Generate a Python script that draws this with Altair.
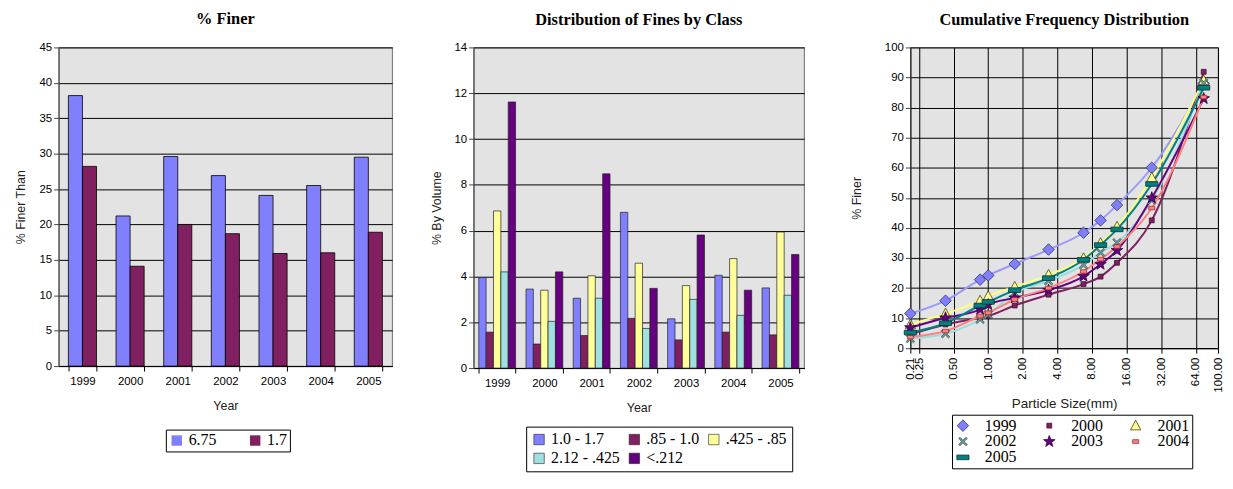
import altair as alt
import pandas as pd

# ---------------- data ----------------
years = ["1999", "2000", "2001", "2002", "2003", "2004", "2005"]

# % Finer chart
finer_sizes = ["6.75", "1.7"]
finer_675 = [38.2, 21.2, 29.6, 26.9, 24.1, 25.5, 29.5]
finer_17 = [28.2, 14.1, 20.0, 18.7, 15.9, 16.0, 18.9]

# Distribution of fines by class
classes = ["1.0 - 1.7", ".85 - 1.0", ".425 - .85", "2.12 - .425", "<.212"]
cls_10_17 = [3.95, 3.45, 3.05, 6.8, 2.15, 4.05, 3.5]
cls_085_10 = [1.57, 1.05, 1.42, 2.17, 1.23, 1.57, 1.45]
cls_0425_085 = [6.86, 3.4, 4.03, 4.58, 3.6, 4.78, 5.94]
cls_212_0425 = [4.2, 2.04, 3.05, 1.73, 3.0, 2.3, 3.18]
cls_lt_212 = [11.62, 4.2, 8.48, 3.48, 5.81, 3.4, 4.96]

# Cumulative frequency distribution
sieve_mm = [0.21, 0.425, 0.85, 1.0, 1.7, 3.35, 6.75, 9.5, 13.2, 26.5, 75]
cum_1999 = [11.5, 15.8, 22.8, 24.2, 28.0, 32.8, 38.4, 42.5, 47.6, 60.0, 88.0]
cum_2000 = [4.6, 7.9, 10.1, 10.7, 14.2, 17.8, 21.3, 23.8, 28.4, 42.5, 91.9]
cum_2001 = [7.9, 11.5, 15.8, 17.3, 20.4, 24.4, 29.9, 34.9, 40.4, 56.7, 89.0]
cum_2002 = [3.2, 4.8, 9.6, 11.2, 18.4, 22.4, 27.7, 31.8, 35.1, 49.2, 88.2]
cum_2003 = [6.8, 10.1, 12.9, 14.5, 16.7, 19.3, 23.9, 27.9, 32.5, 50.0, 83.0]
cum_2004 = [3.7, 5.7, 10.7, 11.8, 16.2, 20.0, 25.5, 29.6, 33.8, 46.6, 83.5]
cum_2005 = [5.2, 8.3, 14.2, 15.4, 19.3, 23.3, 29.4, 34.3, 39.5, 54.6, 86.6]
size_ticks = [0.21, 0.25, 0.5, 1, 2, 4, 8, 16, 32, 64, 100]

# ---------------- tables ----------------
df1 = pd.DataFrame(
    [{"Year": y, "Size": s, "Value": v}
     for s, vals in zip(finer_sizes, [finer_675, finer_17])
     for y, v in zip(years, vals)]
)
df2 = pd.DataFrame(
    [{"Year": y, "Class": c, "Value": v}
     for c, vals in zip(classes, [cls_10_17, cls_085_10, cls_0425_085, cls_212_0425, cls_lt_212])
     for y, v in zip(years, vals)]
)
cum_all = [cum_1999, cum_2000, cum_2001, cum_2002, cum_2003, cum_2004, cum_2005]
df3 = pd.DataFrame(
    [{"Series": y, "Size": s, "Finer": v}
     for y, vals in zip(years, cum_all)
     for s, v in zip(sieve_mm, vals)]
)

SANS = "Liberation Sans"
SERIF = "Liberation Serif"
LEG_FS = 16

def title(txt, off):
    return alt.Title(txt, font=SERIF, fontSize=16.5, fontWeight="bold",
                     anchor="middle", offset=off, color="black")

def legend(x, y, cols=None, sw=0.6, colpad=14, pad=4):
    kw = dict(orient="none", legendX=x, legendY=y, direction="horizontal",
              title=None, fillColor="white", strokeColor="black", padding=pad,
              labelFont=SERIF, labelFontSize=LEG_FS, labelColor="black",
              symbolType="square", symbolSize=110, symbolStrokeColor="#222",
              symbolStrokeWidth=sw, columnPadding=colpad, rowPadding=3, labelOffset=4)
    if cols:
        kw["columns"] = cols
    return alt.Legend(**kw)

def y_axis(vals, ttl, tpad):
    return alt.Axis(values=vals, title=ttl, grid=True, gridColor="black",
                    labelFont=SANS, labelFontSize=11.5, titleFont=SANS, titleFontSize=12.5,
                    titleFontWeight="normal", titlePadding=tpad, labelColor="black",
                    titleColor="#222", domainColor="#444", tickColor="#444")

bar_x_axis = alt.Axis(labelAngle=0, tickBand="extent", title="Year", labelFont=SANS,
                      labelFontSize=11.5, titleFont=SANS, titleFontSize=12.5,
                      titleFontWeight="normal", titlePadding=12, labelPadding=5,
                      domainColor="black", tickColor="black", labelColor="black",
                      titleColor="#222")

# ---------------- chart 1 ----------------
c1 = alt.Chart(df1, title=title("% Finer", 14)).mark_bar(
    stroke="black", strokeWidth=0.8
).encode(
    x=alt.X("Year:N", sort=years, scale=alt.Scale(paddingInner=0.41, paddingOuter=0.205),
            axis=bar_x_axis),
    xOffset=alt.XOffset("Size:N", sort=finer_sizes, scale=alt.Scale(paddingInner=0, paddingOuter=0)),
    y=alt.Y("Value:Q", scale=alt.Scale(domain=[0, 45], nice=False),
            axis=y_axis(list(range(0, 50, 5)), "% Finer Than", 12)),
    color=alt.Color("Size:N", sort=finer_sizes,
                    scale=alt.Scale(domain=finer_sizes, range=["#8080FF", "#802060"]),
                    legend=legend(108, 385, sw=0, colpad=31, pad=3)),
).properties(width=336, height=321)

# ---------------- chart 2 ----------------
c2 = alt.Chart(df2, title=title("Distribution of Fines by Class", 13)).mark_bar(
    stroke="#222", strokeWidth=0.7
).encode(
    x=alt.X("Year:N", sort=years, scale=alt.Scale(paddingInner=0.22, paddingOuter=0.11),
            axis=bar_x_axis),
    xOffset=alt.XOffset("Class:N", sort=classes, scale=alt.Scale(paddingInner=0, paddingOuter=0)),
    y=alt.Y("Value:Q", scale=alt.Scale(domain=[0, 14], nice=False),
            axis=y_axis(list(range(0, 15, 2)), "% By Volume", 11)),
    color=alt.Color("Class:N", sort=classes,
                    scale=alt.Scale(domain=classes,
                                    range=["#8080FF", "#802060", "#FFFF99", "#A0E0E0", "#660080"]),
                    legend=legend(53, 382, cols=3, colpad=6, pad=5)),
).properties(width=333, height=323)

# ---------------- chart 3 ----------------
line_colors = ["#9999FF", "#802060", "#FFFF80", "#99DDDD", "#660080", "#FF8080", "#008080"]
fill_colors = ["#8080FF", "#802060", "#FFFF99", "#6E9A9A", "#660080", "#FF8080", "#008080"]
stroke_colors = ["#333366", "#401030", "#444400", "#3C5A5A", "#30003C", "#A03030", "#103030"]
shapes = [
    "M0,-0.95L0.95,0L0,0.95L-0.95,0Z",
    "M-0.4,-0.4H0.4V0.4H-0.4Z",
    "M0,-0.9L0.85,0.7H-0.85Z",
    "M-0.7,-0.5L-0.5,-0.7L0,-0.2L0.5,-0.7L0.7,-0.5L0.2,0L0.7,0.5L0.5,0.7L0,0.2L-0.5,0.7L-0.7,0.5L-0.2,0Z",
    "M0,-1L0.24,-0.32L0.95,-0.31L0.38,0.12L0.59,0.81L0,0.4L-0.59,0.81L-0.38,0.12L-0.95,-0.31L-0.24,-0.32Z",
    "M-0.5,-0.3H0.5V0.3H-0.5Z",
    "M-1,-0.38H1V0.38H-1Z",
]

x3 = alt.X("Size:Q", scale=alt.Scale(type="log", domain=[0.21, 100], nice=False),
           axis=alt.Axis(values=size_ticks, format=".2f", labelAngle=270, labelOverlap=False,
                         labelFlush=False, grid=True, gridColor="black",
                         title="Particle Size(mm)", labelFont=SANS, labelFontSize=11.5,
                         titleFont=SANS, titleFontSize=13.5, titleFontWeight="normal",
                         titlePadding=5, labelColor="black", titleColor="#222",
                         domainColor="black", tickColor="black", labelPadding=4))
y3 = alt.Y("Finer:Q", scale=alt.Scale(domain=[0, 100], nice=False),
           axis=y_axis(list(range(0, 110, 10)), "% Finer", 21))

base3 = alt.Chart(df3)
lines3 = base3.mark_line(interpolate="monotone", strokeWidth=2).encode(
    x=x3, y=y3,
    color=alt.Color("Series:N", sort=years,
                    scale=alt.Scale(domain=years, range=line_colors), legend=None),
    detail="Series:N",
)
# this legend is resolved at the top level: position relative to the first panel's plot
leg3 = alt.Legend(orient="none", legendX=900, legendY=370, direction="horizontal", columns=3,
                  title=None, fillColor="white", strokeColor="black", padding=3,
                  labelFont=SERIF, labelFontSize=LEG_FS, labelColor="black",
                  symbolSize=150, symbolStrokeWidth=0.8, columnPadding=25, rowPadding=0,
                  labelOffset=14)
pts3 = base3.mark_point(filled=True, size=150, opacity=1, strokeWidth=0.8).encode(
    x=x3, y=y3,
    fill=alt.Fill("Series:N", sort=years,
                  scale=alt.Scale(domain=years, range=fill_colors), legend=leg3),
    stroke=alt.Stroke("Series:N", sort=years,
                      scale=alt.Scale(domain=years, range=stroke_colors), legend=leg3),
    shape=alt.Shape("Series:N", sort=years,
                     scale=alt.Scale(domain=years, range=shapes), legend=leg3),
)
c3 = alt.layer(lines3, pts3, title=title("Cumulative Frequency Distribution", 13)).properties(
    width=310, height=303)

inner = alt.hconcat(c1, c2, spacing=36).resolve_scale(
    color="independent", xOffset="independent", x="independent", y="independent"
)
chart = alt.hconcat(inner, c3, spacing=45).resolve_scale(
    color="independent", x="independent", y="independent"
).properties(
    padding={"left": 5, "top": 0, "right": 0, "bottom": 0},
    background="white",
).configure(
    style={"guide-label": {"font": SERIF, "fontSize": LEG_FS}}
).configure_view(
    fill="#E3E3E3", stroke="#808080", strokeWidth=1.2
).configure_legend(
    labelFont=SERIF, labelFontSize=LEG_FS, labelColor="black", labelLimit=200
)

chart.save("out.html", embed_options={"renderer": "svg", "actions": False})
